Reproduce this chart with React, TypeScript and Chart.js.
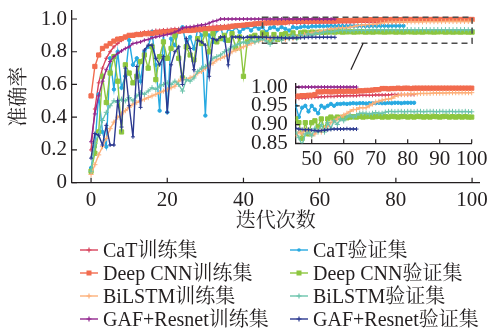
import React, { useEffect, useRef } from "react";
import { Chart, registerables } from "chart.js";
Chart.register(...registerables);

// ---- data (x = iteration index) ----
const catTrain = [
  0.20, 0.45, 0.61, 0.70, 0.76, 0.80, 0.83, 0.85, 0.87, 0.885,
  0.90, 0.905, 0.91, 0.915, 0.92, 0.922, 0.925, 0.93, 0.93, 0.933,
  0.935, 0.937, 0.94, 0.94, 0.942, 0.945, 0.945, 0.948, 0.95, 0.95,
  0.952, 0.953, 0.955, 0.956, 0.957, 0.958, 0.96, 0.961, 0.962, 0.963,
  0.964, 0.965, 0.966, 0.967, 0.968, 0.97, 0.97, 0.971, 0.971, 0.972,
  0.972, 0.973, 0.973, 0.974, 0.974, 0.975, 0.975, 0.975, 0.976, 0.976,
  0.976, 0.977, 0.977, 0.977, 0.977, 0.978, 0.978, 0.978, 0.978, 0.978,
  0.979, 0.979, 0.979, 0.979, 0.979, 0.98, 0.98, 0.98, 0.98, 0.98,
  0.98, 0.98, 0.98,
];
const catVal = [
  0.09, 0.22, 0.54, 0.31, 0.22, 0.76, 0.57, 0.80, 0.58, 0.65,
  0.87, 0.72, 0.76, 0.62, 0.80, 0.83, 0.92, 0.72, 0.44, 0.92,
  0.43, 0.88, 0.84, 0.93, 0.95, 0.84, 0.89, 0.82, 0.94, 0.90,
  0.41, 0.90, 0.86, 0.93, 0.95, 0.87, 0.94, 0.92, 0.95, 0.92,
  0.94, 0.95, 0.93, 0.955, 0.94, 0.95, 0.92, 0.945, 0.95, 0.935,
  0.95, 0.94, 0.93, 0.95, 0.945, 0.95, 0.955, 0.95, 0.955, 0.955,
  0.956, 0.955, 0.956, 0.957, 0.956, 0.957, 0.957, 0.956, 0.957, 0.957,
  0.957, 0.958, 0.957, 0.957, 0.958, 0.957, 0.958, 0.958, 0.957, 0.958,
  0.958, 0.958, 0.958,
];
const cnnTrain = [
  0.53, 0.71, 0.78, 0.82, 0.835, 0.85, 0.865, 0.877, 0.88, 0.89,
  0.90, 0.90, 0.905, 0.905, 0.91, 0.91, 0.912, 0.915, 0.918, 0.92,
  0.92, 0.922, 0.925, 0.925, 0.928, 0.93, 0.93, 0.932, 0.935, 0.935,
  0.938, 0.94, 0.94, 0.942, 0.945, 0.948, 0.95, 0.955, 0.958, 0.96,
  0.962, 0.965, 0.967, 0.97, 0.972, 0.975, 0.976, 0.977, 0.977, 0.978,
  0.978, 0.98, 0.987, 0.987, 0.988, 0.988, 0.987, 0.988, 0.988, 0.989,
  0.988, 0.989, 0.989, 0.988, 0.989, 0.99, 0.99, 0.991, 0.991, 0.992,
  0.993, 0.993, 0.996, 0.996, 0.995, 0.996, 0.996, 0.997, 0.996, 0.997,
  0.997, 0.996, 0.997, 0.997, 0.997, 0.997, 0.997, 0.997, 0.997, 0.997,
  0.997, 0.997, 0.997, 0.997, 0.997, 0.997, 0.997, 0.997, 0.997, 0.997,
  0.997,
];
const cnnVal = [
  0.07, 0.18, 0.31, 0.65, 0.49, 0.67, 0.77, 0.62, 0.31, 0.72,
  0.67, 0.61, 0.65, 0.74, 0.78, 0.70, 0.83, 0.63, 0.77, 0.86,
  0.76, 0.82, 0.90, 0.76, 0.64, 0.83, 0.78, 0.75, 0.88, 0.85,
  0.91, 0.80, 0.91, 0.86, 0.88, 0.90, 0.87, 0.91, 0.82, 0.89,
  0.65, 0.86, 0.89, 0.90, 0.88, 0.915, 0.905, 0.863, 0.905, 0.875,
  0.905, 0.91, 0.895, 0.915, 0.89, 0.915, 0.92, 0.915, 0.92, 0.918,
  0.92, 0.918, 0.92, 0.921, 0.92, 0.922, 0.92, 0.921, 0.922, 0.92,
  0.921, 0.922, 0.92, 0.921, 0.92, 0.922, 0.921, 0.92, 0.921, 0.922,
  0.92, 0.921, 0.92, 0.922, 0.921, 0.92, 0.921, 0.92, 0.922, 0.921,
  0.92, 0.921, 0.922, 0.92, 0.921, 0.92, 0.921, 0.92, 0.921, 0.92,
  0.92,
];
const bilstmTrain = [
  0.05, 0.11, 0.17, 0.22, 0.27, 0.33, 0.37, 0.40, 0.42, 0.44,
  0.46, 0.48, 0.49, 0.50, 0.51, 0.52, 0.53, 0.54, 0.55, 0.56,
  0.57, 0.58, 0.59, 0.62, 0.635, 0.63, 0.64, 0.65, 0.67, 0.68,
  0.70, 0.72, 0.73, 0.75, 0.76, 0.77, 0.78, 0.80, 0.81, 0.82,
  0.83, 0.84, 0.85, 0.86, 0.865, 0.87, 0.88, 0.875, 0.885, 0.88,
  0.87, 0.875, 0.885, 0.88, 0.89, 0.895, 0.905, 0.91, 0.915, 0.92,
  0.925, 0.93, 0.935, 0.94, 0.94, 0.945, 0.945, 0.945, 0.95, 0.955,
  0.96, 0.962, 0.965, 0.967, 0.968, 0.97, 0.975, 0.978, 0.98, 0.98,
  0.98, 0.982, 0.982, 0.982, 0.983, 0.983, 0.983, 0.983, 0.984, 0.984,
  0.984, 0.984, 0.984, 0.985, 0.985, 0.985, 0.985, 0.985, 0.985, 0.985,
  0.985,
];
const bilstmVal = [
  0.07, 0.24, 0.30, 0.38, 0.43, 0.47, 0.50, 0.49, 0.51, 0.50,
  0.52, 0.50, 0.53, 0.55, 0.54, 0.56, 0.58, 0.57, 0.59, 0.60,
  0.61, 0.60, 0.62, 0.60, 0.56, 0.63, 0.62, 0.64, 0.68, 0.70,
  0.71, 0.73, 0.76, 0.77, 0.78, 0.80, 0.81, 0.83, 0.84, 0.85,
  0.86, 0.85, 0.87, 0.86, 0.87, 0.88, 0.865, 0.845, 0.875, 0.88,
  0.87, 0.89, 0.88, 0.90, 0.88, 0.905, 0.89, 0.91, 0.90, 0.915,
  0.91, 0.92, 0.925, 0.92, 0.925, 0.93, 0.93, 0.93, 0.928, 0.93,
  0.932, 0.93, 0.93, 0.933, 0.935, 0.935, 0.934, 0.935, 0.935, 0.934,
  0.935, 0.935, 0.934, 0.935, 0.935, 0.934, 0.935, 0.935, 0.935, 0.934,
  0.935, 0.935, 0.934, 0.935, 0.935, 0.934, 0.935, 0.934, 0.935, 0.934,
  0.934,
];
const gafTrain = [
  0.25, 0.42, 0.53, 0.62, 0.69, 0.74, 0.77, 0.79, 0.805, 0.82,
  0.83, 0.85, 0.855, 0.86, 0.87, 0.875, 0.885, 0.89, 0.895, 0.90,
  0.905, 0.91, 0.92, 0.93, 0.945, 0.95, 0.952, 0.955, 0.96, 0.963,
  0.966, 0.975, 0.985, 0.99, 1.0, 1.0, 1.0, 1.0, 1.0, 1.0,
  1.0, 1.0, 1.0, 1.0, 1.0, 1.0, 1.0, 1.0, 1.0, 1.0,
  1.0, 1.0, 1.0, 1.0, 1.0, 1.0, 1.0, 1.0, 1.0, 1.0,
  1.0, 1.0, 1.0, 1.0, 1.0,
];
const gafVal = [
  0.15, 0.30, 0.29, 0.23, 0.35, 0.23, 0.23, 0.50, 0.34, 0.70,
  0.47, 0.28, 0.71, 0.46, 0.81, 0.84, 0.84, 0.76, 0.72, 0.77,
  0.43, 0.72, 0.80, 0.83, 0.60, 0.88, 0.82, 0.69, 0.87, 0.86,
  0.84, 0.65, 0.88, 0.87, 0.89, 0.89, 0.72, 0.89, 0.89, 0.89,
  0.885, 0.89, 0.888, 0.89, 0.888, 0.89, 0.888, 0.887, 0.886, 0.887,
  0.885, 0.884, 0.883, 0.884, 0.885, 0.886, 0.887, 0.888, 0.888, 0.888,
  0.888, 0.889, 0.888, 0.888, 0.888,
];

const seriesNames = [
  "CaT训练集", "CaT验证集",
  "Deep CNN训练集", "Deep CNN验证集",
  "BiLSTM训练集", "BiLSTM验证集",
  "GAF+Resnet训练集", "GAF+Resnet验证集",
];
const seriesValues = [catTrain, catVal, cnnTrain, cnnVal, bilstmTrain, bilstmVal, gafTrain, gafVal];

const mainXTicks = [0, 20, 40, 60, 80, 100];
const mainYTicks = [0, 0.2, 0.4, 0.6, 0.8, 1.0];
const insetXTicks = [50, 60, 70, 80, 90, 100];
const insetYTicks = [0.85, 0.9, 0.95, 1.0];
const insetStart = 45;
const xTitle = "迭代次数";
const yTitle = "准确率";

// ---- styles ----
const seriesColors = ["#d8435c", "#27a9e1", "#f26c4f", "#8dc63f", "#fdb07a", "#6cc4ac", "#92278f", "#2b3990"];
const seriesMarkers = ["cross", "circle", "rect", "rect", "cross", "cross", "cross", "cross"];
const markerRadius = [2, 1.7, 3, 3, 2.6, 2.6, 2, 2];
const TEXT = "#231f20";
const SERIF_LATIN = "'Liberation Serif','DejaVu Serif',serif";
const SERIF = "'Liberation Serif','DejaVu Serif','Noto Serif CJK SC','Noto Sans CJK SC',serif";

function buildDatasets(from: number) {
  return seriesValues.map((vals, i) => ({
    label: seriesNames[i],
    data: vals.map((v, k) => ({ x: k, y: v })).filter((p) => p.x >= from),
    borderColor: seriesColors[i],
    backgroundColor: seriesColors[i],
    borderWidth: 1.4,
    pointStyle: seriesMarkers[i],
    pointRadius: markerRadius[i],
    pointHoverRadius: markerRadius[i],
    pointBorderWidth: 1,
    tension: 0,
    order: seriesValues.length - i,
    clip: { left: 0, top: 6, right: 6, bottom: 0 },
  }));
}

const decorPlugin = {
  id: "decor",
  afterDatasetsDraw(chart: any, _args: any, opts: any) {
    const { ctx, chartArea: a, scales } = chart;
    const xs = scales.x;
    const ys = scales.y;
    ctx.save();
    ctx.strokeStyle = TEXT;
    ctx.lineWidth = 1.2;
    ctx.beginPath();
    for (const v of opts.xTicks) {
      const p = xs.getPixelForValue(v);
      ctx.moveTo(p, a.bottom);
      ctx.lineTo(p, a.bottom - opts.len);
    }
    for (const v of opts.yTicks) {
      const p = ys.getPixelForValue(v);
      ctx.moveTo(a.left, p);
      ctx.lineTo(a.left + opts.len, p);
    }
    ctx.stroke();
    if (opts.box) {
      const b = opts.box;
      const x0 = xs.getPixelForValue(b.x0);
      const x1 = xs.getPixelForValue(b.x1);
      const y0 = ys.getPixelForValue(b.y0);
      const y1 = ys.getPixelForValue(b.y1);
      ctx.strokeStyle = "#4d4d4d";
      ctx.lineWidth = 1.5;
      ctx.setLineDash([6, 4]);
      ctx.strokeRect(x0, y1, x1 - x0, y0 - y1);
      ctx.setLineDash([]);
      ctx.strokeStyle = TEXT;
      ctx.lineWidth = 1.2;
      ctx.beginPath();
      ctx.moveTo(xs.getPixelForValue(b.lx0), ys.getPixelForValue(b.ly0));
      ctx.lineTo(xs.getPixelForValue(b.lx1), ys.getPixelForValue(b.ly1));
      ctx.stroke();
    }
    ctx.restore();
  },
};

function zeroPad(s: any) {
  s.paddingLeft = 0;
  s.paddingRight = 0;
  s.paddingTop = 0;
  s.paddingBottom = 0;
}

function LegendItem({ i }: { i: number }) {
  const col = i % 2;
  const row = Math.floor(i / 2);
  const left = col === 0 ? 80 : 290;
  const cy = 250 + row * 23;
  const c = seriesColors[i];
  const m = seriesMarkers[i];
  return (
    <div style={{ position: "absolute", left, top: cy - 12, height: 24, whiteSpace: "nowrap" }}>
      <svg width={18} height={10} style={{ position: "absolute", left: 0, top: 7 }}>
        <line x1={0} y1={5} x2={18} y2={5} stroke={c} strokeWidth={1.4} />
        {m === "rect" ? (
          <rect x={6.5} y={2.5} width={5} height={5} fill={c} />
        ) : m === "circle" ? (
          <circle cx={9} cy={5} r={1.8} fill={c} />
        ) : (
          <path d="M9 2.5V7.5M6.5 5H11.5" stroke={c} strokeWidth={1.2} />
        )}
      </svg>
      <span
        style={{
          position: "absolute",
          left: 23,
          top: 0,
          fontFamily: SERIF,
          fontSize: 20,
          lineHeight: "24px",
          color: TEXT,
        }}
      >
        {seriesNames[i]}
      </span>
    </div>
  );
}

export default function App() {
  const mainRef = useRef<HTMLCanvasElement | null>(null);
  const insetRef = useRef<HTMLCanvasElement | null>(null);

  useEffect(() => {
    const tickFont = { family: SERIF_LATIN, size: 21 };
    const titleFont = { family: SERIF, size: 20 };
    const main = new Chart(mainRef.current as HTMLCanvasElement, {
      type: "line",
      data: { datasets: buildDatasets(0) as any },
      plugins: [decorPlugin as any],
      options: {
        animation: false,
        responsive: false,
        maintainAspectRatio: false,
        layout: { padding: { left: 0, top: 10.8, right: 16.3, bottom: 95 } },
        plugins: {
          legend: { display: false },
          tooltip: { enabled: false },
          decor: {
            xTicks: mainXTicks,
            yTicks: mainYTicks,
            len: 5,
            box: { x0: 45, x1: 100, y0: 0.852, y1: 1.01, lx0: 71.4, ly0: 0.852, lx1: 68.2, ly1: 0.69 },
          },
        } as any,
        scales: {
          x: {
            type: "linear",
            min: -5,
            max: 102,
            grid: { display: false, drawTicks: false },
            border: { display: true, color: TEXT, width: 1.3 },
            ticks: { font: tickFont, color: TEXT, padding: 5, maxRotation: 0, autoSkip: false, callback: (v: any) => String(v) },
            afterBuildTicks: (s: any) => { s.ticks = mainXTicks.map((v) => ({ value: v })); },
            afterFit: (s: any) => { s.height = 51.3; zeroPad(s); },
            title: { display: true, text: xTitle, font: titleFont, color: TEXT, padding: { top: 0, bottom: 0 } },
          },
          y: {
            type: "linear",
            min: 0,
            max: 1.05,
            grid: { display: false, drawTicks: false },
            border: { display: true, color: TEXT, width: 1.3 },
            ticks: { font: tickFont, color: TEXT, padding: 5, autoSkip: false, callback: (v: any) => (Number(v) === 0 ? "0" : Number(v).toFixed(1)) },
            afterBuildTicks: (s: any) => { s.ticks = mainYTicks.map((v) => ({ value: v })); },
            afterFit: (s: any) => { s.width = 72; zeroPad(s); },
            title: { display: true, text: yTitle, font: titleFont, color: TEXT, padding: { top: 8, bottom: 0 } },
          },
        },
      } as any,
    });

    const inset = new Chart(insetRef.current as HTMLCanvasElement, {
      type: "line",
      data: { datasets: buildDatasets(insetStart) as any },
      plugins: [decorPlugin as any],
      options: {
        animation: false,
        responsive: false,
        maintainAspectRatio: false,
        layout: { padding: { left: 0, top: 13.3, right: 24.3, bottom: 0 } },
        plugins: {
          legend: { display: false },
          tooltip: { enabled: false },
          decor: { xTicks: insetXTicks, yTicks: insetYTicks, len: 4 },
        } as any,
        scales: {
          x: {
            type: "linear",
            min: 45,
            max: 100,
            grid: { display: false, drawTicks: false },
            border: { display: true, color: TEXT, width: 1.3 },
            ticks: { font: tickFont, color: TEXT, padding: 4, maxRotation: 0, autoSkip: false, callback: (v: any) => String(v) },
            afterBuildTicks: (s: any) => { s.ticks = insetXTicks.map((v) => ({ value: v })); },
            afterFit: (s: any) => { s.height = 31.7; zeroPad(s); },
          },
          y: {
            type: "linear",
            min: 0.85,
            max: 1.01,
            grid: { display: false, drawTicks: false },
            border: { display: true, color: TEXT, width: 1.3 },
            ticks: { font: tickFont, color: TEXT, padding: 8, autoSkip: false, callback: (v: any) => Number(v).toFixed(2) },
            afterBuildTicks: (s: any) => { s.ticks = insetYTicks.map((v) => ({ value: v })); },
            afterFit: (s: any) => { s.width = 59.7; zeroPad(s); },
          },
        },
      } as any,
    });

    return () => {
      main.destroy();
      inset.destroy();
    };
  }, []);

  return (
    <div style={{ position: "absolute", left: 0, top: 0, width: 496, height: 329, background: "#fff", overflow: "hidden" }}>
      <canvas ref={mainRef} width={496} height={329} style={{ position: "absolute", left: 0, top: 0, width: 496, height: 329 }} />
      <canvas ref={insetRef} width={260} height={105} style={{ position: "absolute", left: 236, top: 70, width: 260, height: 105 }} />
      {seriesNames.map((_, i) => (
        <LegendItem key={i} i={i} />
      ))}
    </div>
  );
}
